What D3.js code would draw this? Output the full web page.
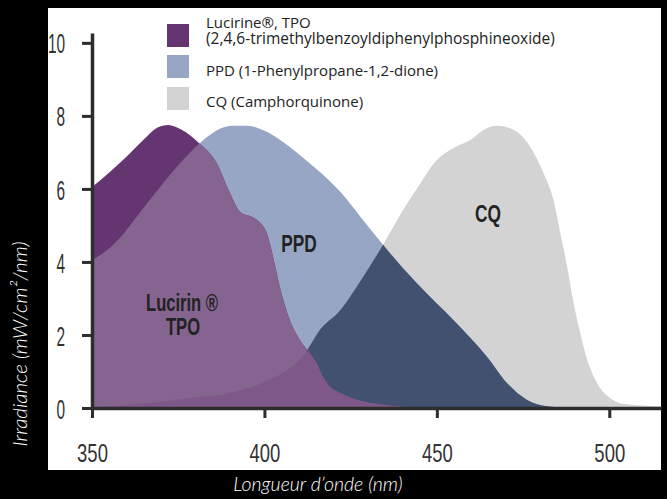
<!DOCTYPE html>
<html>
<head>
<meta charset="utf-8">
<script src="https://cdn.jsdelivr.net/npm/d3@7"></script>
<style>
  html, body { margin: 0; padding: 0; background: #000; }
  svg { display: block; }
</style>
</head>
<body>
<script>
// spectra: [wavelength nm, irradiance mW/cm²/nm]
const tpoData = [
  [350, 6.05], [355, 6.45], [360, 6.88], [365, 7.35], [369, 7.68], [372, 7.75],
  [376, 7.62], [381, 7.26], [386, 6.74], [390, 5.89], [393, 5.37], [396.5, 5.23],
  [398.7, 5.08], [400.7, 4.79], [402.5, 4.14], [404.5, 3.3], [407.4, 2.4],
  [410.3, 1.86], [412.4, 1.59], [415.3, 1.2], [417, 0.85], [419, 0.58], [422, 0.41],
  [427, 0.22], [433.5, 0.1], [440, 0.03], [450, 0]
]
const ppdData = [
  [350, 4.05], [354, 4.3], [358, 4.65], [362, 5.12], [366.8, 5.7], [371, 6.2],
  [375.5, 6.7], [381.3, 7.26], [385, 7.53], [388, 7.68], [391, 7.73], [395, 7.73],
  [398, 7.67], [402, 7.5], [405.5, 7.28], [410, 6.95], [415, 6.55], [422, 5.92],
  [428, 5.22], [434.4, 4.47], [440, 3.85], [445.2, 3.32], [454.8, 2.41],
  [464.6, 1.4], [470.4, 0.68], [476.2, 0.22], [482, 0.05], [490, 0]
]
const cqData = [
  [350, 0.02], [360, 0.08], [370, 0.18], [381, 0.3], [390, 0.41], [401, 0.75],
  [406, 1.0], [409.5, 1.25], [412.4, 1.59], [416.1, 2.14], [422, 2.68], [428, 3.5],
  [434.4, 4.47], [440.2, 5.42], [445.2, 6.15], [450, 6.79], [454.8, 7.12],
  [459.7, 7.34], [464.6, 7.67], [467.5, 7.73], [472.2, 7.62], [477.1, 7.15],
  [480.9, 6.44], [483.8, 5.7], [485.8, 4.79], [487.8, 3.86], [489.5, 2.96],
  [491.6, 2.05], [493.6, 1.32], [496.5, 0.68], [500.3, 0.27], [505, 0.1],
  [512.7, 0.05], [515, 0.04]
]
const xTicks = [350, 400, 450, 500]
const yTicks = [0, 2, 4, 6, 8, 10]
const legendLabels = [
  ["Lucirine®, TPO", "(2,4,6-trimethylbenzoyldiphenylphosphineoxide)"],
  ["PPD (1-Phenylpropane-1,2-dione)"],
  ["CQ (Camphorquinone)"]
]
const legendColors = ["#653572", "#97a6c4", "#d3d3d3"]
const xTitle = "Longueur d’onde (nm)"
const yTitle = "Irradiance (mW/cm²/nm)"

const width = 667, height = 499

const svg = d3.select("body").append("svg")
  .attr("width", width)
  .attr("height", height)

// black background + white panel
svg.append("rect").attr("width", width).attr("height", height).attr("fill", "#000")
svg.append("rect")
  .attr("x", 48).attr("y", 8)
  .attr("width", 613).attr("height", 462)
  .attr("fill", "#fff")

// scales
const x = d3.scaleLinear().domain([350, 515]).range([92, 661])
const y = d3.scaleLinear().domain([0, 10.27]).range([408, 33])

const area = d3.area()
  .x(d => x(d[0]))
  .y0(y(0))
  .y1(d => y(d[1]))
  .curve(d3.curveMonotoneX)

// clip paths for the overlaps
const defs = svg.append("defs")
defs.append("clipPath").attr("id", "clip-ppd")
  .append("path").attr("d", area(ppdData))
defs.append("clipPath").attr("id", "clip-cq")
  .append("path").attr("d", area(cqData))

const plot = svg.append("g")

// CQ alone
plot.append("path").attr("d", area(cqData)).attr("fill", "#d3d3d3")
// PPD alone
plot.append("path").attr("d", area(ppdData)).attr("fill", "#97a6c4")
// PPD + CQ
plot.append("g").attr("clip-path", "url(#clip-cq)")
  .append("path").attr("d", area(ppdData)).attr("fill", "#425170")
// TPO alone
plot.append("path").attr("d", area(tpoData)).attr("fill", "#653572")
// TPO + PPD
const tpoPpd = plot.append("g").attr("clip-path", "url(#clip-ppd)")
tpoPpd.append("path").attr("d", area(tpoData)).attr("fill", "#85648f")
// TPO + PPD + CQ
tpoPpd.append("g").attr("clip-path", "url(#clip-cq)")
  .append("path").attr("d", area(tpoData)).attr("fill", "#7d5889")

// labels on the curves
const bigLabel = (txt, cx, by, size) => {
  svg.append("text")
    .attr("transform", `translate(${cx},${by}) scale(0.72,1)`)
    .attr("text-anchor", "middle")
    .style("font-family", "'Liberation Sans', Arial, sans-serif")
    .style("font-weight", "bold")
    .style("font-size", size + "px")
    .style("fill", "#222")
    .text(txt)
}
bigLabel("Lucirin ®", 182, 311, 23)
bigLabel("TPO", 183, 335, 23)
bigLabel("PPD", 299, 252, 24)
bigLabel("CQ", 488, 222, 24)

// axes
const axisColor = "#2d2d2d"
const gx = svg.append("g")
  .attr("transform", `translate(0,${y(0)})`)
  .call(d3.axisBottom(x).tickValues(xTicks).tickSize(10).tickSizeOuter(0))
const gy = svg.append("g")
  .attr("transform", `translate(${x(350)},0)`)
  .call(d3.axisLeft(y).tickValues(yTicks).tickSize(10).tickSizeOuter(0))

gx.select(".domain").attr("stroke", axisColor).attr("stroke-width", 3.5)
gy.select(".domain").attr("stroke", axisColor).attr("stroke-width", 3.5)
svg.selectAll(".tick line").attr("stroke", axisColor).attr("stroke-width", 3)

gx.selectAll(".tick text")
  .attr("y", 54).attr("dy", 0)
  .attr("transform", "scale(0.74,1)")
  .style("font-family", "'Liberation Sans', Arial, sans-serif")
  .style("font-size", "25px")
  .style("fill", "#333")
gy.selectAll(".tick text")
  .attr("x", -27 / 0.55).attr("dy", "0.36em")
  .attr("transform", "scale(0.55,1)")
  .style("font-family", "'Liberation Sans', Arial, sans-serif")
  .style("font-size", "28px")
  .style("fill", "#333")

// legend
const legend = svg.append("g")
const boxY = [24, 55, 87]
const textY = [28, 76, 107]
legendLabels.forEach((lines, i) => {
  legend.append("rect")
    .attr("x", 167).attr("y", boxY[i])
    .attr("width", 22).attr("height", 23)
    .attr("fill", legendColors[i])
  lines.forEach((ln, j) => {
    legend.append("text")
      .attr("x", 206).attr("y", textY[i] + j * 15.5)
      .style("font-family", "'Open Sans', sans-serif")
      .style("font-size", j ? "15.5px" : "15px")
      .style("fill", "#222")
      .text(ln)
  })
})

// axis titles
svg.append("text")
  .attr("x", 318).attr("y", 491)
  .attr("text-anchor", "middle")
  .style("font-family", "Lato, sans-serif")
  .style("font-style", "italic")
  .style("font-weight", 300)
  .style("font-size", "19.5px")
  .style("fill", "#fff")
  .text(xTitle)
svg.append("text")
  .attr("transform", "translate(27,344) rotate(-90)")
  .attr("text-anchor", "middle")
  .style("font-family", "Lato, sans-serif")
  .style("font-style", "italic")
  .style("font-weight", 300)
  .style("font-size", "20.5px")
  .style("fill", "#fff")
  .text(yTitle)
</script>
</body>
</html>
